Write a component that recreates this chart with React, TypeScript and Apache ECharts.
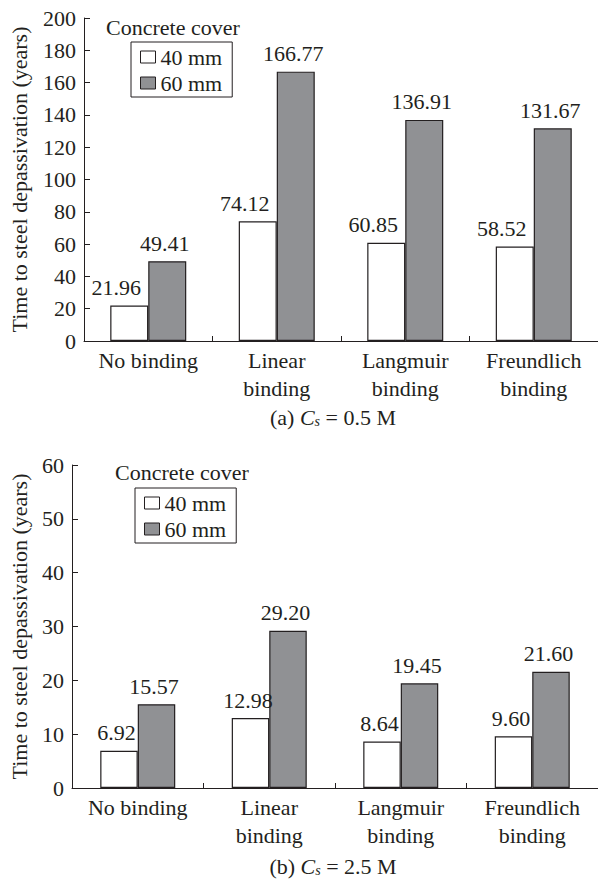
import React, { useEffect, useRef } from "react";
import * as echarts from "echarts";

const categories = ["No binding", "Linear\nbinding", "Langmuir\nbinding", "Freundlich\nbinding"];
const seriesNames = ["40 mm", "60 mm"];
const topCover40 = [21.96, 74.12, 60.85, 58.52];
const topCover60 = [49.41, 166.77, 136.91, 131.67];
const bottomCover40 = [6.92, 12.98, 8.64, 9.6];
const bottomCover60 = [15.57, 29.2, 19.45, 21.6];
const topAxis = { min: 0, max: 200, interval: 20 };
const bottomAxis = { min: 0, max: 60, interval: 10 };
const yTitle = "Time to steel depassivation (years)";
const legendTitle = "Concrete cover";

const FONT = "Liberation Serif";
const INK = "#231f20";
const GRAY = "#909194";

export default function App() {
  const ref = useRef<HTMLDivElement>(null);
  useEffect(() => {
    if (!ref.current) return;
    const chart = echarts.init(ref.current, null, { renderer: "svg" });

    const xAxisBase = (gridIndex: number) => ({
      type: "category",
      gridIndex,
      data: categories,
      axisLine: { show: true, lineStyle: { color: INK, width: 1 } },
      axisTick: { show: true, inside: true, length: 5, lineStyle: { color: INK } },
      axisLabel: { color: INK, fontSize: 22, fontFamily: FONT, lineHeight: 28, margin: 5, interval: 0 },
    });
    const yAxisBase = (gridIndex: number, ax: any, nameGap: number) => ({
      type: "value",
      gridIndex,
      min: ax.min,
      max: ax.max,
      interval: ax.interval,
      name: yTitle,
      nameLocation: "middle",
      nameGap,
      nameRotate: 90,
      nameTextStyle: { color: INK, fontSize: 22, fontFamily: FONT },
      axisLine: { show: true, lineStyle: { color: INK, width: 1 } },
      axisTick: { show: true, inside: true, length: 6, lineStyle: { color: INK } },
      axisLabel: { color: INK, fontSize: 22, fontFamily: FONT, margin: 8 },
      splitLine: { show: false },
    });
    const barSeries = (name: string, data: number[], idx: number, fill: string, dx: number, bw: number) => ({
      type: "bar",
      name,
      data,
      xAxisIndex: idx,
      yAxisIndex: idx,
      barWidth: bw,
      barGap: "0%",
      itemStyle: { color: fill, borderColor: INK, borderWidth: 1.2 },
      label: {
        show: true,
        position: "top",
        distance: 7,
        offset: [dx, 0],
        color: INK,
        fontSize: 22,
        fontFamily: FONT,
        formatter: (p: any) => Number(p.value).toFixed(2),
      },
    });
    const legendBase = (left: number, top: number) => ({
      orient: "vertical",
      left,
      top,
      data: seriesNames,
      icon: "rect",
      itemWidth: 15,
      itemHeight: 12,
      itemGap: 4,
      padding: [4, 10, 3, 9],
      borderColor: INK,
      borderWidth: 1,
      selectedMode: false,
      itemStyle: { borderWidth: 1 },
      textStyle: { color: INK, fontSize: 22, fontFamily: FONT },
    });
    const caption = (label: string, value: string, y: number) => ({
      type: "text",
      x: 333,
      y,
      style: {
        text: `{n|${label} }{i|C}{s|s}{n| = ${value} M}`,
        align: "center",
        verticalAlign: "middle",
        fill: INK,
        rich: {
          n: { fontSize: 22, fontFamily: FONT, color: INK },
          i: { fontSize: 22, fontFamily: FONT, fontStyle: "italic", color: INK },
          s: { fontSize: 14, fontFamily: FONT, fontStyle: "italic", color: INK, padding: [9, 0, 0, 0] },
        },
      },
    });

    chart.setOption({
      animation: false,
      backgroundColor: "#ffffff",
      textStyle: { fontFamily: FONT },
      grid: [
        { left: 82, top: 18, width: 518, height: 323 },
        { left: 70, top: 465, width: 529, height: 323 },
      ],
      xAxis: [xAxisBase(0), xAxisBase(1)],
      yAxis: [yAxisBase(0, topAxis, 54), yAxisBase(1, bottomAxis, 42)],
      legend: [legendBase(131, 42), legendBase(135, 488)],
      series: [
        barSeries(seriesNames[0], topCover40, 0, "#ffffff", -13, 38),
        barSeries(seriesNames[1], topCover60, 0, GRAY, -2.5, 38),
        barSeries(seriesNames[0], bottomCover40, 1, "#ffffff", -2.5, 37.5),
        barSeries(seriesNames[1], bottomCover60, 1, GRAY, -2.5, 37.5),
      ],
      graphic: [
        {
          type: "text",
          x: 106,
          y: 27.6,
          style: { text: legendTitle, fill: INK, fontSize: 22, fontFamily: FONT, verticalAlign: "middle" },
        },
        {
          type: "text",
          x: 115,
          y: 472.6,
          style: { text: legendTitle, fill: INK, fontSize: 22, fontFamily: FONT, verticalAlign: "middle" },
        },
        caption("(a)", "0.5", 417),
        caption("(b)", "2.5", 866),
      ],
    });
    return () => chart.dispose();
  }, []);
  return (
    <div
      ref={ref}
      style={{ position: "fixed", left: 0, top: 0, width: 598, height: 882, background: "#fff" }}
    />
  );
}
